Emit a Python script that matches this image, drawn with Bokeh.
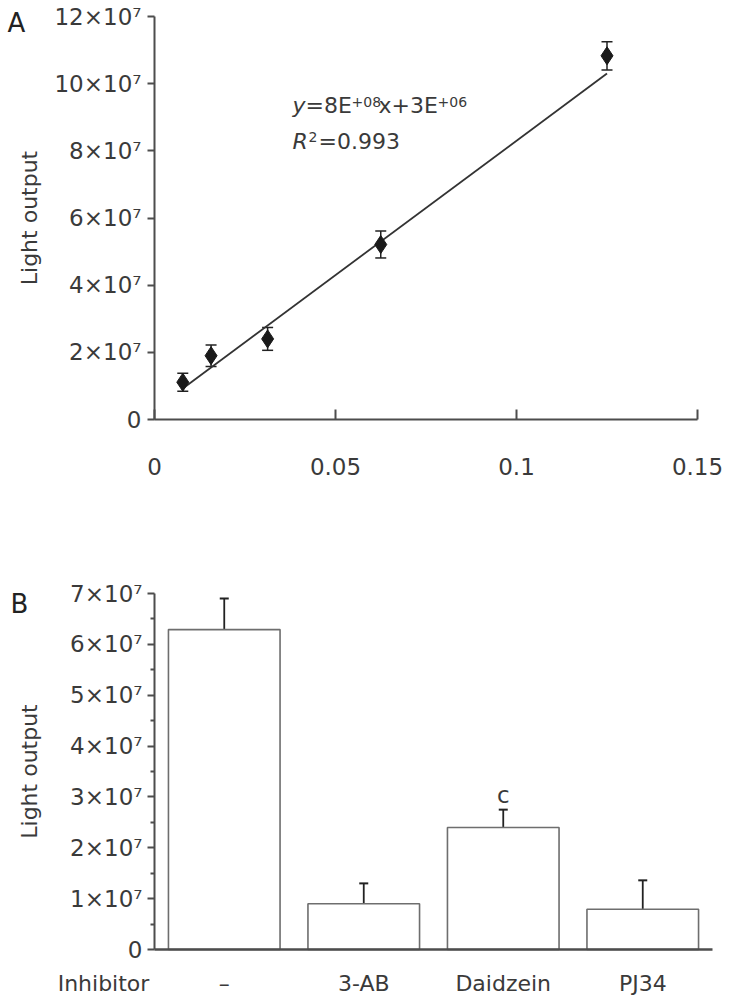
import numpy as np
from bokeh.plotting import figure
from bokeh.models import Range1d, FixedTicker, Whisker, TeeHead, ColumnDataSource
from bokeh.core.properties import value
from bokeh.layouts import column
from bokeh.embed import file_html
from bokeh.resources import INLINE

# ---------------- data: panel A (standard curve) ----------------
conc = [0.0078125, 0.015625, 0.03125, 0.0625, 0.125]
light = [1.11e7, 1.90e7, 2.40e7, 5.21e7, 10.83e7]
light_err = [0.27e7, 0.32e7, 0.34e7, 0.40e7, 0.42e7]
fit_slope = 8e8
fit_intercept = 3e6
a_xticks = [0, 0.05, 0.1, 0.15]
a_xtick_labels = ["0", "0.05", "0.1", "0.15"]
a_yticks = [0, 2e7, 4e7, 6e7, 8e7, 10e7, 12e7]
a_ytick_labels = ["0", "2×10⁷", "4×10⁷", "6×10⁷", "8×10⁷", "10×10⁷", "12×10⁷"]

# ---------------- data: panel B (inhibitors) ----------------
inhibitors = ["–", "3-AB", "Daidzein", "PJ34"]
b_values = [6.29e7, 0.90e7, 2.40e7, 0.79e7]
b_err = [0.61e7, 0.40e7, 0.35e7, 0.57e7]
b_marks = ["", "", "c", ""]
b_yticks = [0, 1e7, 2e7, 3e7, 4e7, 5e7, 6e7, 7e7]
b_ytick_labels = ["0", "1×10⁷", "2×10⁷", "3×10⁷", "4×10⁷", "5×10⁷", "6×10⁷", "7×10⁷"]
b_minor = [0.5e7, 1.5e7, 2.5e7, 3.5e7, 4.5e7, 5.5e7, 6.5e7]

FONT = "DejaVu Sans"
TXT = "#3a3a3a"
AX = "#4d4d4d"
W = 729
HA, HB = 480, 518


class PixelMap:
    """Maps canvas pixels to data, given where two data values sit on the canvas."""
    def __init__(self, d0, p0, d1, p1):
        self.k = (p1 - p0) / (d1 - d0)
        self.d0, self.p0 = d0, p0

    def __call__(self, p):
        return self.d0 + (p - self.p0) / self.k


def style_axes(p):
    p.xgrid.visible = False
    p.ygrid.visible = False
    p.outline_line_color = None
    p.background_fill_color = "white"
    p.border_fill_color = "white"
    for ax in p.axis:
        ax.axis_line_color = AX
        ax.axis_line_width = 2
        ax.major_tick_line_color = AX
        ax.major_tick_line_width = 2
        ax.minor_tick_line_color = AX
        ax.minor_tick_line_width = 2
        ax.major_label_text_font = FONT
        ax.major_label_text_font_size = "23px"
        ax.major_label_text_color = TXT
        ax.axis_label_text_font = FONT
        ax.axis_label_text_font_size = "22px"
        ax.axis_label_text_font_style = "normal"
        ax.axis_label_text_color = TXT


# ================= Panel A =================
ax_px = PixelMap(0, 154, 0.15, 697)
ay_px = PixelMap(0, 419, 12e7, 16)
pa = figure(width=W, height=HA, output_backend="svg", toolbar_location=None,
            x_range=Range1d(ax_px(0), ax_px(W)), y_range=Range1d(ay_px(HA), ay_px(0)),
            min_border=0)
style_axes(pa)
pa.xaxis.fixed_location = 0
pa.xaxis.bounds = (a_xticks[0], a_xticks[-1])
pa.xaxis.ticker = FixedTicker(ticks=a_xticks)
pa.xaxis.major_label_overrides = {t: l for t, l in zip(a_xticks, a_xtick_labels)}
pa.xaxis.major_tick_in = 10
pa.xaxis.major_tick_out = 0
pa.xaxis.minor_tick_out = 0
pa.xaxis.minor_tick_in = 0
pa.xaxis.major_label_standoff = 38
pa.yaxis.fixed_location = 0
pa.yaxis.bounds = (a_yticks[0], a_yticks[-1])
pa.yaxis.ticker = FixedTicker(ticks=a_yticks)
pa.yaxis.major_label_overrides = {t: l for t, l in zip(a_yticks, a_ytick_labels)}
pa.yaxis.major_tick_in = 0
pa.yaxis.major_tick_out = 7
pa.yaxis.minor_tick_out = 0
pa.yaxis.minor_tick_in = 0
pa.yaxis.major_label_standoff = 6
pa.yaxis.axis_label = "Light output"
pa.yaxis.axis_label_standoff = 9

src_a = ColumnDataSource(dict(x=conc, y=light,
                              lo=[v - e for v, e in zip(light, light_err)],
                              hi=[v + e for v, e in zip(light, light_err)]))
xl = np.array([min(conc), max(conc)])
pa.line(xl, fit_slope * xl + fit_intercept, line_color="#333333", line_width=1.8)
pa.add_layout(Whisker(base="x", lower="lo", upper="hi", source=src_a,
                      line_color="#222222", line_width=1.5,
                      upper_head=TeeHead(size=11, line_color="#222222", line_width=1.5),
                      lower_head=TeeHead(size=11, line_color="#222222", line_width=1.5)))
pa.scatter("x", "y", source=src_a, marker="diamond", size=18,
           fill_color="#1a1a1a", line_color="#1a1a1a")

# panel letter
pa.text(x=[ax_px(16)], y=[ay_px(22)], text=["A"], text_font=value(FONT),
        text_font_size="26px", text_color="#222222", text_align="center",
        text_baseline="middle")

# regression equation, pieces laid out left to right (y_offset: + is down)
eq_x = ax_px(292)
eq_y1 = ay_px(105)
eq_y2 = ay_px(141)
FS, FSS = "22px", "14px"
pieces1 = [("y", 0, 0, FS, "italic"), ("=8E", 13, 0, FS, "normal"),
           ("+08", 59, -4, FSS, "normal"), ("x+3E", 86, 0, FS, "normal"),
           ("+06", 145, -4, FSS, "normal")]
for t, dx, dy, fs, st in pieces1:
    pa.text(x=[eq_x], y=[eq_y1], text=[t], x_offset=dx, y_offset=dy,
            text_font=value(FONT), text_font_size=fs, text_font_style=st,
            text_color=TXT, text_baseline="middle")
pieces2 = [("R", 0, 0, FS, "italic"), ("2", 16, -5, FSS, "normal"),
           ("=0.993", 26, 0, FS, "normal")]
for t, dx, dy, fs, st in pieces2:
    pa.text(x=[eq_x], y=[eq_y2], text=[t], x_offset=dx, y_offset=dy,
            text_font=value(FONT), text_font_size=fs, text_font_style=st,
            text_color=TXT, text_baseline="middle")

# ================= Panel B =================
OFF = HA  # panel B starts lower on the page
bx_px = PixelMap(0, 154, 4, 712)
by_px = PixelMap(0, 949 - OFF, 7e7, 593 - OFF)
pb = figure(width=W, height=HB, output_backend="svg", toolbar_location=None,
            x_range=Range1d(bx_px(0), bx_px(W)), y_range=Range1d(by_px(HB), by_px(0)),
            min_border=0)
style_axes(pb)
pos = [i + 0.5 for i in range(len(inhibitors))]
pb.xaxis.fixed_location = 0
pb.xaxis.bounds = (0, len(inhibitors))
pb.xaxis.ticker = FixedTicker(ticks=pos)
pb.xaxis.major_label_overrides = {t: l for t, l in zip(pos, inhibitors)}
pb.xaxis.major_tick_in = 0
pb.xaxis.major_tick_out = 0
pb.xaxis.minor_tick_in = 0
pb.xaxis.minor_tick_out = 0
pb.xaxis.major_label_text_font_size = "22px"
pb.xaxis.major_label_standoff = 21
pb.xaxis.axis_line_width = 2.5
pb.yaxis.fixed_location = 0
pb.yaxis.bounds = (b_yticks[0], b_yticks[-1])
pb.yaxis.ticker = FixedTicker(ticks=b_yticks, minor_ticks=b_minor)
pb.yaxis.major_label_overrides = {t: l for t, l in zip(b_yticks, b_ytick_labels)}
pb.yaxis.major_tick_in = 0
pb.yaxis.major_tick_out = 7
pb.yaxis.minor_tick_in = 0
pb.yaxis.minor_tick_out = 4
pb.yaxis.major_label_standoff = 5
pb.yaxis.axis_label = "Light output"
pb.yaxis.axis_label_standoff = 25

src_b = ColumnDataSource(dict(x=pos, top=b_values,
                              hi=[v + e for v, e in zip(b_values, b_err)],
                              name=inhibitors, mark=b_marks))
pb.add_layout(Whisker(base="x", lower="top", upper="hi", source=src_b,
                      line_color="#222222", line_width=1.8,
                      upper_head=TeeHead(size=9, line_color="#222222", line_width=2),
                      lower_head=None))
pb.vbar(x="x", top="top", width=0.8, bottom=0, source=src_b,
        fill_color="white", line_color="#6e6e6e", line_width=1.6)
pb.text(x="x", y="hi", text="mark", source=src_b, y_offset=-15,
        text_font=value(FONT), text_font_size="23px", text_color=TXT,
        text_align="center", text_baseline="middle")
pb.text(x=[bx_px(103)], y=[by_px(983 - OFF)], text=["Inhibitor"],
        text_font=value(FONT), text_font_size="22px", text_color=TXT,
        text_align="center", text_baseline="middle")
pb.text(x=[bx_px(19)], y=[by_px(603 - OFF)], text=["B"], text_font=value(FONT),
        text_font_size="26px", text_color="#222222", text_align="center",
        text_baseline="middle")

layout = column(pa, pb, spacing=0)
open("out.html", "w").write(file_html(layout, INLINE))
